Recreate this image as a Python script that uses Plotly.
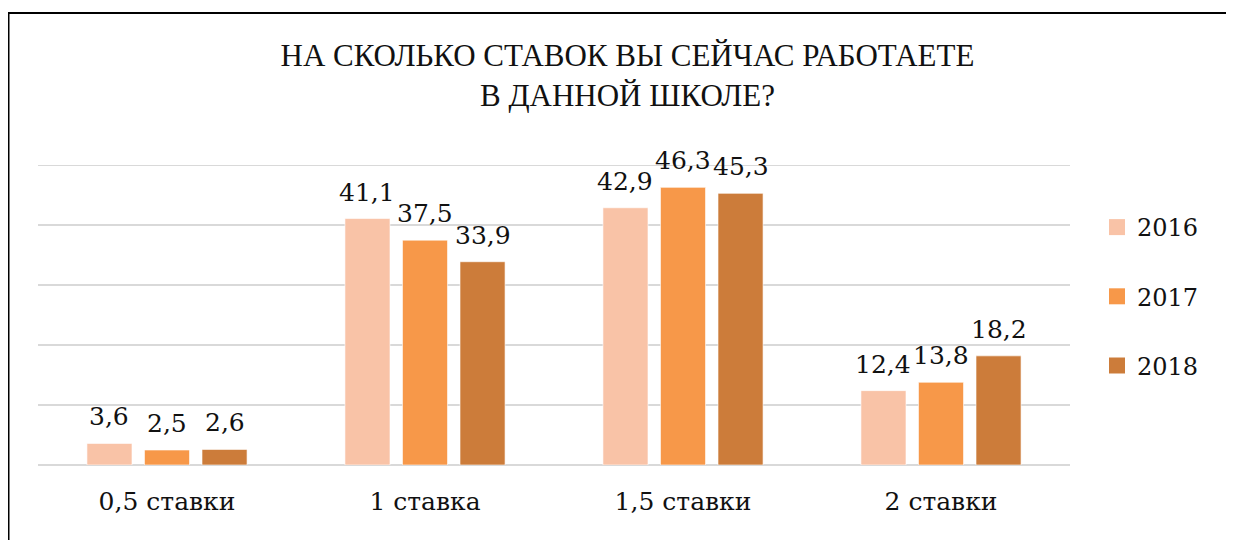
import plotly.graph_objects as go

categories = ["0,5 ставки", "1 ставка", "1,5 ставки", "2 ставки"]
series_names = ["2016", "2017", "2018"]
values_2016 = [3.6, 41.1, 42.9, 12.4]
values_2017 = [2.5, 37.5, 46.3, 13.8]
values_2018 = [2.6, 33.9, 45.3, 18.2]
colors = ["#F9C3A7", "#F79849", "#CC7C3A"]

TITLE_FONT = "Liberation Serif"
FONT = "DejaVu Serif"

# page body has an 8px margin: layout coordinates are given in figure px
L, R_EDGE, TOP, BOT = 30, 1062, 157, 457
W, H = 1234, 540
PW, PH = R_EDGE - L, BOT - TOP
BARGAP = 0.331

fig = go.Figure()
all_vals = [values_2016, values_2017, values_2018]
slot = PW / len(categories) * (1 - BARGAP) / 3
annotations = []
for i, (name, vals, col) in enumerate(zip(series_names, all_vals, colors)):
    fig.add_trace(go.Bar(
        x=categories, y=vals, name=name, showlegend=False,
        marker=dict(color=col, line=dict(color="rgba(255,255,255,0.6)", width=1)),
    ))
    fig.add_trace(go.Scatter(
        x=[None], y=[None], name=name, mode="markers", legendgroup=name,
        marker=dict(symbol="square", size=16, color=col),
    ))
    for c, v in zip(categories, vals):
        annotations.append(dict(
            x=c, y=v, xref="x", yref="y", text=f"{v:.1f}".replace(".", ","),
            showarrow=False, xanchor="center", yanchor="bottom",
            xshift=(i - 1) * slot, yshift=10,
            font=dict(family=FONT, size=25, color="#111111"),
        ))

fig.update_layout(
    width=W, height=H,
    margin=dict(l=L, r=W - R_EDGE, t=TOP, b=H - BOT),
    paper_bgcolor="white", plot_bgcolor="white",
    separators=", ",
    barmode="group", bargap=BARGAP, bargroupgap=0.217,
    title=dict(text="НА СКОЛЬКО СТАВОК ВЫ СЕЙЧАС РАБОТАЕТЕ<br>В ДАННОЙ ШКОЛЕ?",
               x=0.502, xanchor="center", y=1 - 58 / 540, yanchor="top",
               font=dict(family=TITLE_FONT, size=31, color="#111111")),
    legend=dict(x=(1089 - L) / PW, xanchor="left", y=(BOT - 197) / PH, yanchor="top",
                font=dict(family=FONT, size=24, color="#111111"),
                tracegroupgap=35, itemsizing="trace"),
    showlegend=True,
    xaxis=dict(showline=False, ticks="", ticklabelstandoff=19,
               tickfont=dict(family=FONT, size=25, color="#111111")),
    yaxis=dict(range=[0, 50.03], dtick=10, showticklabels=False, showgrid=True,
               gridcolor="#D9D9D9", gridwidth=1.5, zeroline=True,
               zerolinecolor="#D9D9D9", zerolinewidth=1.5),
    annotations=annotations,
    shapes=[
        dict(type="line", xref="paper", yref="y", x0=0, x1=1, y0=50, y1=50,
             line=dict(color="#D9D9D9", width=1.5), layer="below"),
        dict(type="rect", xref="paper", yref="paper",
             x0=(0.5 - L) / PW, x1=(1260 - L) / PW,
             y0=(BOT - 560) / PH, y1=(BOT - 5) / PH,
             line=dict(color="black", width=2), fillcolor="rgba(0,0,0,0)", layer="below"),
    ],
)

fig.write_html("out.html")
